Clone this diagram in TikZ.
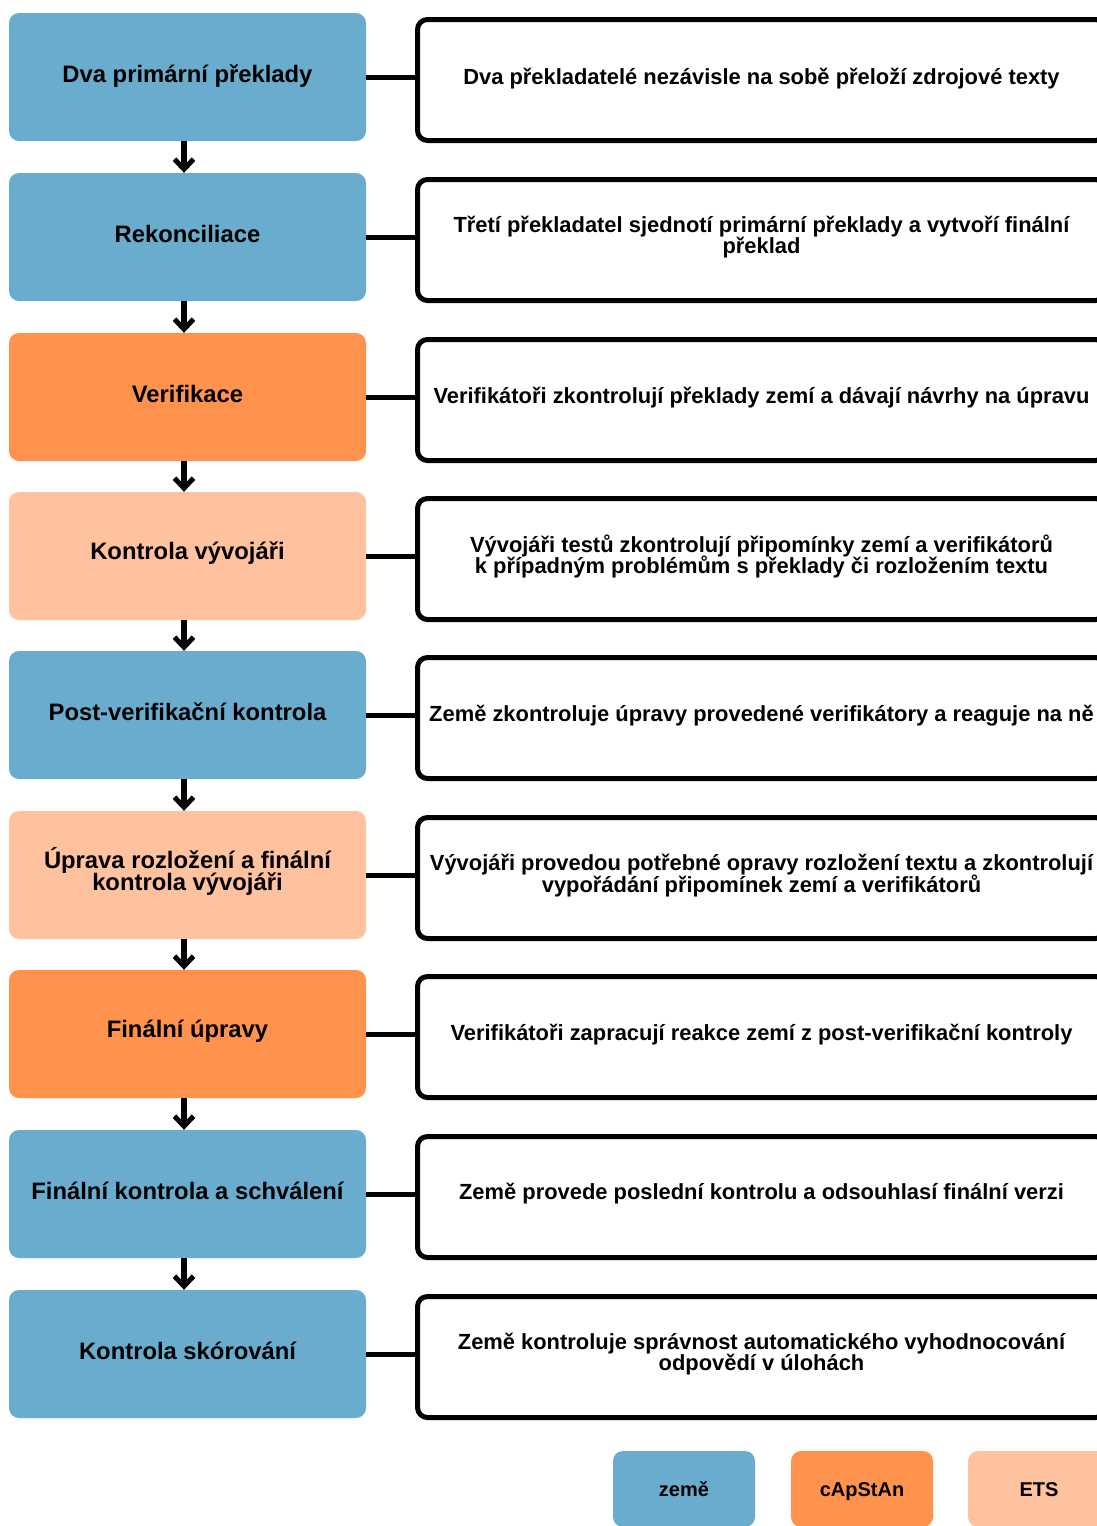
\documentclass[tikz,border=0pt]{standalone}
\usepackage{fontspec}
\setmainfont{Liberation Sans}
\usetikzlibrary{arrows.meta}
\definecolor{zemecol}{RGB}{106,172,206}
\definecolor{capcol}{RGB}{255,146,77}
\definecolor{etscol}{RGB}{255,194,158}
\newcommand{\tightlns}{\lineskiplimit=-50pt\relax\lineskip=0pt\relax}
\begin{document}
\begin{tikzpicture}[x=1pt,y=-1pt,
  lbox/.style={rounded corners=10pt, minimum width=357pt, minimum height=128pt, inner sep=0pt},
  ltext/.style={align=center, inner sep=0pt, font={\fontsize{23.8}{22}\selectfont\bfseries\tightlns}},
  rbox/.style={draw=black, line width=5pt, rounded corners=10pt, minimum width=688pt, minimum height=121pt, inner sep=0pt},
  rtext/.style={align=center, inner sep=0pt, font={\fontsize{21.9}{21.5}\selectfont\bfseries\tightlns}},
  legbox/.style={rounded corners=10pt, minimum width=142pt, minimum height=76pt, inner sep=0pt, text height=16.5pt, text depth=2pt, font={\fontsize{20}{22}\selectfont\bfseries}},
  conn/.style={line width=5pt},
  flow/.style={line width=5.5pt, -{Straight Barb[length=10pt, width=19pt, line width=5pt]}}
]
\useasboundingbox (0,0) rectangle (1097,1526);

% left boxes
\node[lbox, fill=zemecol] (L1) at (187.5,77) {};
\node[lbox, fill=zemecol] (L2) at (187.5,237) {};
\node[lbox, fill=capcol] (L3) at (187.5,397) {};
\node[lbox, fill=etscol] (L4) at (187.5,556) {};
\node[lbox, fill=zemecol] (L5) at (187.5,715) {};
\node[lbox, fill=etscol] (L6) at (187.5,875) {};
\node[lbox, fill=capcol] (L7) at (187.5,1034) {};
\node[lbox, fill=zemecol] (L8) at (187.5,1194) {};
\node[lbox, fill=zemecol] (L9) at (187.5,1354) {};

\node[ltext] (L1t) at ([yshift=1pt]L1.center) {Dva primární překlady};
\node[ltext] (L2t) at ([yshift=3.5pt]L2.center) {Rekonciliace};
\node[ltext] (L3t) at ([yshift=3.5pt]L3.center) {Verifikace};
\node[ltext] (L4t) at ([yshift=3pt]L4.center) {Kontrola vývojáři};
\node[ltext] (L5t) at ([yshift=3pt]L5.center) {Post-verifikační kontrola};
\node[ltext] (L6t) at ([yshift=4pt]L6.center) {Úprava rozložení a finální\\kontrola vývojáři};
\node[ltext] (L7t) at ([yshift=3pt]L7.center) {Finální úpravy};
\node[ltext] (L8t) at ([yshift=3pt]L8.center) {Finální kontrola a schválení};
\node[ltext] (L9t) at ([yshift=3.5pt]L9.center) {Kontrola skórování};

% right boxes
\node[rbox] (R1) at (761.5,80) {};
\node[rbox] (R2) at (761.5,240) {};
\node[rbox] (R3) at (761.5,400) {};
\node[rbox] (R4) at (761.5,559) {};
\node[rbox] (R5) at (761.5,718) {};
\node[rbox] (R6) at (761.5,878) {};
\node[rbox] (R7) at (761.5,1037) {};
\node[rbox] (R8) at (761.5,1197) {};
\node[rbox] (R9) at (761.5,1357) {};

\node[rtext] (R1t) at ([yshift=1.5pt]R1.center) {Dva překladatelé nezávisle na sobě přeloží zdrojové texty};
\node[rtext] (R2t) at ([yshift=3pt]R2.center) {Třetí překladatel sjednotí primární překlady a vytvoří finální\\překlad};
\node[rtext] (R3t) at ([yshift=2.5pt]R3.center) {Verifikátoři zkontrolují překlady zemí a dávají návrhy na úpravu};
\node[rtext] (R4t) at ([yshift=2.5pt]R4.center) {Vývojáři testů zkontrolují připomínky zemí a verifikátorů\\k případným problémům s překlady či rozložením textu};
\node[rtext] (R5t) at ([yshift=2.5pt]R5.center) {Země zkontroluje úpravy provedené verifikátory a reaguje na ně};
\node[rtext] (R6t) at ([yshift=2.5pt]R6.center) {Vývojáři provedou potřebné opravy rozložení textu a zkontrolují\\vypořádání připomínek zemí a verifikátorů};
\node[rtext] (R7t) at ([yshift=2.5pt]R7.center) {Verifikátoři zapracují reakce zemí z post-verifikační kontroly};
\node[rtext] (R8t) at ([yshift=3pt]R8.center) {Země provede poslední kontrolu a odsouhlasí finální verzi};
\node[rtext] (R9t) at ([yshift=3pt]R9.center) {Země kontroluje správnost automatického vyhodnocování\\odpovědí v úlohách};

% connectors
\foreach \i in {1,...,9} {
  \draw[conn] (L\i.east) -- (L\i.east -| R\i.west);
}

% flow arrows
\foreach \i/\j in {1/2,2/3,3/4,4/5,5/6,6/7,7/8,8/9} {
  \draw[flow] ([xshift=-3.5pt]L\i.south) -- ([xshift=-3.5pt]L\j.north);
}

% legend
\node[legbox, fill=zemecol] (G1) at (684,1489) {země};
\node[legbox, fill=capcol] (G2) at (862,1489) {cApStAn};
\node[legbox, fill=etscol] (G3) at (1039,1489) {ETS};
\end{tikzpicture}
\end{document}
